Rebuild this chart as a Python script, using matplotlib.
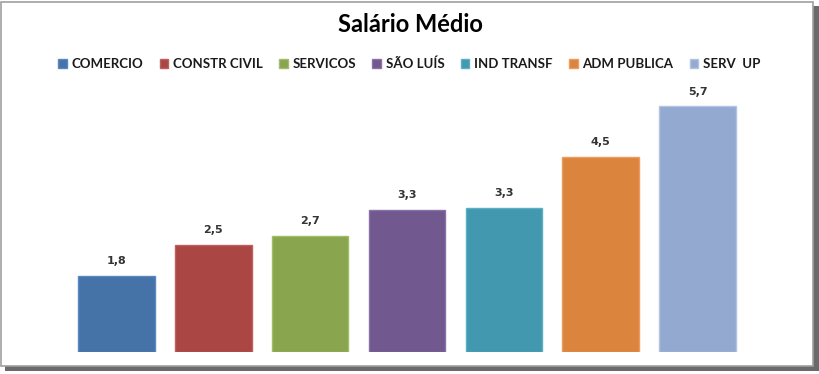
import matplotlib
matplotlib.use("Agg")
import matplotlib.pyplot as plt
from matplotlib.patches import Rectangle

# data
setores = ["COMERCIO", "CONSTR CIVIL", "SERVICOS", "SÃO LUÍS", "IND TRANSF", "ADM PUBLICA", "SERV  UP"]
salario = [1.77, 2.48, 2.70, 3.29, 3.34, 4.53, 5.70]
cores = ["#4572A7", "#AA4643", "#89A54E", "#71588F", "#4198AF", "#DB843D", "#93A9CF"]
bordas = ["#5A88BE", "#C0605D", "#A2BD6A", "#8A72A8", "#5BB0C6", "#EC9D5C", "#B2C4E2"]

plt.rcParams["font.family"] = ["Lato", "DejaVu Sans"]

W, H = 820, 374
fig = plt.figure(figsize=(W / 100, H / 100), dpi=100)
fig.patch.set_facecolor("white")

# frame with shadow
fig.patches.append(Rectangle((5 / W, 1 - 371 / H), 814 / W, 365 / H, transform=fig.transFigure,
                             facecolor="#6a6a6a", edgecolor="none", zorder=0))
fig.patches.append(Rectangle((1.5 / W, 1 - 366 / H), 812 / W, 364 / H, transform=fig.transFigure,
                             facecolor="white", edgecolor="#a0a0a0", lw=1.2, zorder=1))

ax = fig.add_axes([68 / W, 1 - 352 / H, 678 / W, (352 - 93.4) / H])
ax.set_zorder(3)
ax.set_facecolor("none")
x = range(len(setores))
barras = ax.bar(x, salario, width=0.79, color=cores, edgecolor=bordas, linewidth=1, label=setores)
for xi, v in zip(x, salario):
    ax.annotate(f"{v:.1f}".replace(".", ","), (xi, v), xytext=(0, 7), textcoords="offset points",
                ha="center", va="bottom", fontsize=8, fontweight="bold", color="#333333",
                family="DejaVu Sans")
ax.set_xlim(-0.5, 6.5)
ax.set_ylim(0, 6)
ax.axis("off")

fig.text(0.5, 1 - 25 / H, "Salário Médio", ha="center", va="center",
         fontsize=17, fontweight="bold", color="black", zorder=3)

leg = fig.legend(barras, setores, loc="center", bbox_to_anchor=(0.499, 1 - 64 / H), ncol=7,
                 frameon=False, fontsize=9.5, handlelength=0.65, handleheight=0.65,
                 handletextpad=0.35, columnspacing=1.25, borderaxespad=0)
leg.set_zorder(3)
for t in leg.get_texts():
    t.set_color("#1a1a1a")
    t.set_fontweight("bold")

fig.savefig("out.png", dpi=100)
